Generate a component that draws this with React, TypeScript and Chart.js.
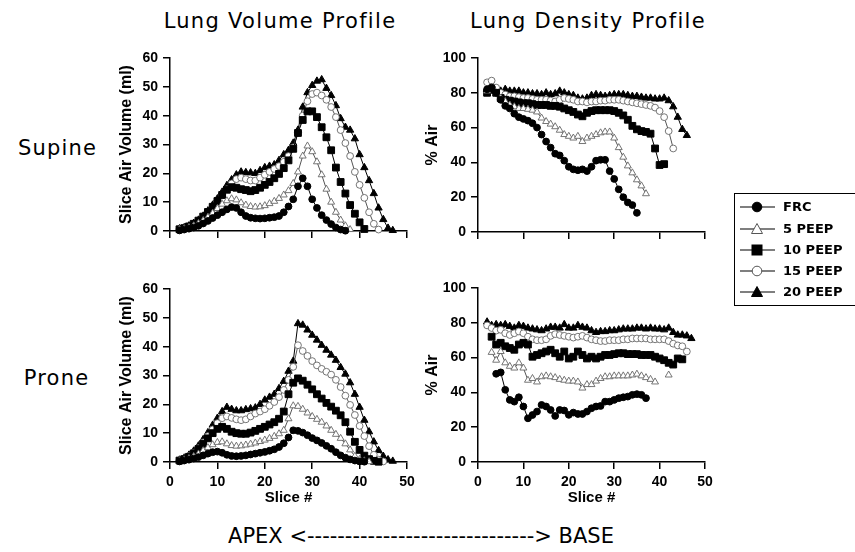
import React, { useEffect, useRef } from 'react';
import { Chart, registerables } from 'chart.js';

Chart.register(...registerables);

// ---------- categories / labels ----------
const SERIES_NAMES = ['FRC', '5 PEEP', '10 PEEP', '15 PEEP', '20 PEEP'];
const SLICE_MIN = 0;
const SLICE_MAX = 50;
const SLICE_STEP = 10;
const VOLUME_MAX = 60;
const VOLUME_STEP = 10;
const DENSITY_MAX = 100;
const DENSITY_STEP = 20;

// ---------- Supine: slice air volume (ml) ----------
const supVolStart = [2, 2, 2, 2, 2];
const supVolFRC = [0.2, 0.5, 0.8, 1.2, 1.8, 2.6, 3.5, 4.5, 5.5, 6.5, 7.5, 8.3, 8.0, 6.5, 5.2, 4.6, 4.4, 4.3, 4.4, 4.6, 4.8, 5.2, 6.5, 8.5, 11, 15.5, 18.3, 15.5, 11, 8, 5.5, 3.8, 2.4, 1.2, 0.5, 0.1];
const supVolP5 = [0.5, 0.8, 1.2, 1.8, 2.6, 3.6, 4.8, 6.2, 7.8, 9.3, 10.5, 11.2, 10.8, 9.8, 9.0, 8.5, 8.3, 8.4, 8.8, 9.5, 10.3, 11.3, 12.5, 14, 16.5, 20.5, 26, 29.5, 27.5, 24, 19.5, 14.5, 10, 6.5, 3.8, 1.8, 0.5];
const supVolP10 = [0.6, 1, 1.6, 2.5, 3.6, 5, 6.6, 8.4, 10.4, 12.5, 14.3, 15.2, 15, 14.5, 14.2, 13.8, 14.2, 15, 16, 17, 18.3, 19.8, 21.8, 24.5, 28.5, 34, 38.5, 41.5, 41.5, 39.5, 36, 32.5, 28, 22, 17, 13, 9, 6, 3, 0.7];
const supVolP15 = [0.7, 1, 1.5, 2.3, 3.3, 4.6, 6.2, 8, 10, 12.3, 14.5, 16.5, 18, 18.5, 18, 17.5, 17.5, 18.5, 19.5, 20.5, 21.5, 22.5, 24, 26, 29, 34, 40, 45, 47.5, 48, 47, 45.5, 43, 39.5, 35, 30.5, 26, 20.5, 16, 11.5, 6.5, 2.5, 0.5];
const supVolP20 = [0.8, 1.2, 1.8, 2.7, 3.8, 5.2, 7, 9, 11.2, 13.5, 15.8, 17.8, 19.5, 20.5, 20.3, 20.2, 20, 21, 22, 22.5, 23, 24.5, 26.5, 28, 30.5, 35, 43, 48, 50.5, 52, 52.5, 49.5, 47, 43.5, 39, 36, 35, 32, 26.5, 22, 17.5, 13, 8, 4, 1, 0.2];

// ---------- Supine: % air ----------
const supDenStart = [2, 2, 2, 2, 2];
const supDenFRC = [82, 83, 80, 76, 72.5, 71, 68, 66, 65, 64, 62.5, 60, 56, 52, 48.5, 45, 44, 41, 37.5, 36, 35.5, 36, 35, 37.5, 41, 41.5, 41.5, 35, 30.5, 24.5, 20, 17, 15.5, 11];
const supDenP5 = [81, 83, 80, 77, 75, 73, 72, 71, 71, 70.5, 70, 69, 65.5, 63.5, 62, 60.5, 58.5, 56, 55, 54, 55, 52, 54, 55, 56, 57, 57.5, 57.5, 54, 48.5, 43, 38, 34, 30, 26.5, 22];
const supDenP10 = [80, 82, 80, 77, 76, 75.5, 75, 74.5, 74, 74, 73.5, 73, 73, 73, 72.5, 72.5, 72, 71, 70, 69, 67.5, 66.5, 68.5, 69.5, 70, 70, 70, 70, 69.5, 68.5, 67, 64.5, 61, 59, 58, 57.5, 56.5, 48, 38.5, 39];
const supDenP15 = [86, 87, 83, 80, 79, 78, 78, 77.5, 77, 77, 76.5, 76, 76, 76, 75.5, 75, 76, 77, 76.5, 76, 75, 75, 74.5, 75, 75, 75.5, 75.5, 76, 76, 76, 75.5, 75, 74.5, 74, 73.5, 73, 72.5, 71.5, 69.5, 66, 58, 48];
const supDenP20 = [82, 81, 80, 81, 82, 81, 81, 81, 80, 80, 79.5, 79.5, 79, 80, 79, 79.5, 81, 80, 79, 78.5, 77, 76.5, 77, 78.5, 79, 78.5, 78, 78.5, 79, 79, 79, 78.5, 78, 78, 77.5, 77, 77, 76.5, 76.5, 77, 75.5, 72, 66, 59, 55.5];

// ---------- Prone: slice air volume (ml) ----------
const proVolStart = [2, 2, 2, 2, 2];
const proVolFRC = [0.2, 0.5, 0.8, 1.2, 1.7, 2.3, 2.9, 3.4, 3.6, 3.2, 2.5, 2.1, 2.0, 2.1, 2.3, 2.6, 2.9, 3.2, 3.5, 3.9, 4.4, 5.2, 6.5, 8.5, 11, 10.8, 10.2, 9.3, 8.3, 7.5, 6.6, 5.6, 4.6, 3.4, 2.3, 1.5, 0.9, 0.5, 0.2, 0.1];
const proVolP5 = [0.3, 0.7, 1.2, 1.9, 2.8, 3.9, 5.0, 6.0, 6.8, 7.0, 6.3, 5.7, 5.5, 5.6, 5.9, 6.2, 6.6, 7.1, 7.6, 8.2, 8.9, 9.8, 11.0, 15.0, 19.5, 19.3, 18.3, 17.0, 15.8, 14.8, 13.8, 12.5, 11.0, 9.6, 8.2, 6.3, 4.2, 2.0, 0.9, 0.4, 0.1];
const proVolP10 = [0.5, 1, 1.8, 3, 4.5, 6.3, 8.2, 10, 11.5, 12.2, 11.5, 10.5, 10, 9.8, 9.8, 10.2, 10.8, 11.5, 12.2, 13, 13.8, 15, 17.5, 23.5, 27.5, 29, 28.2, 26.8, 25.2, 23.5, 22, 20.5, 19.2, 17.8, 16.2, 13.8, 10.5, 7, 4.2, 2.2, 1.0, 0.4, 0.1];
const proVolP15 = [0.6, 1.2, 2, 3.2, 4.8, 6.8, 9, 11.3, 13.5, 15.2, 15.8, 15.3, 14.8, 14.5, 14.8, 15.8, 16.8, 17.5, 18.3, 19.5, 20.8, 22.5, 25, 28.5, 33, 40.5, 38.5, 36.8, 35, 33.5, 32.3, 31.3, 30.3, 28.5, 26, 23, 19.8, 16.3, 12.5, 9, 5.5, 2.5, 0.8, 0.2];
const proVolP20 = [0.7, 1.4, 2.4, 3.8, 5.6, 7.8, 10.2, 12.8, 15.2, 17.5, 19, 18.3, 17.8, 17.8, 18.2, 18.5, 18.8, 20, 21.5, 22.5, 23.5, 25.5, 28, 31.5, 35, 48, 47.5, 45.8, 44, 42.3, 40.5, 38.8, 37.1, 35.3, 32.8, 30.5, 27.5, 23.5, 19, 14.5, 10.5, 7, 4, 2, 0.8, 0.3];

// ---------- Prone: % air ----------
const proDenStart = [4, 3, 3, 2, 2];
const proDenFRC = [50.7, 51.5, 41.5, 35.7, 34.7, 37.2, 31.9, 25.1, 27, 29, 32.8, 31.9, 29.9, 26.5, 29.9, 29.6, 27.1, 28.4, 27.6, 27.6, 29, 30.9, 31.9, 32.2, 34.7, 34.7, 35.7, 36.7, 37.2, 37.6, 38.6, 39, 38.6, 36.7];
const proDenP5 = [63, 58.5, 63.5, 57, 55, 54, 57, 54, 47, 48, 46, 49, 49.5, 49, 48.5, 47.5, 47, 46.5, 46.5, 46, 42.5, 44.5, 44.5, 46.5, 48, 49, 49, 49.5, 49.5, 49.5, 49.5, 50, 50.5, 49.5, 48.5, 47.5, 46, null, null, 50];
const proDenP10 = [72, 67.5, 68.5, 66.5, 65.5, 64.5, 67.5, 68.5, 67.5, 60.5, 61.5, 62.5, 63.5, 64.5, 62.5, 60.5, 63.5, 59.5, 60.5, 63.5, 61.5, 59.5, 60.5, 59.5, 60.5, 61.5, 61.5, 62, 62.5, 62.5, 62, 62, 62, 61.5, 61.5, 61.5, 60.5, 59.5, 58.5, 57, 56, 59.5, 59];
const proDenP15 = [78.5, 77, 75.5, 76, 74, 73, 74, 75, 74, 72, 70.5, 70, 70, 70.5, 72.5, 73.5, 73, 72.5, 72, 71.5, 72, 72.5, 71.5, 70.5, 70, 69.5, 69.5, 70, 70, 70, 70.5, 70.5, 71, 71, 71, 71, 70.5, 70.5, 70.5, 70.5, 69.5, 68, 67, 66.5, 63.5];
const proDenP20 = [80.5, 78.5, 79, 78.5, 79, 78, 77, 78.5, 78, 77, 76.5, 76, 75.5, 76.5, 77.5, 77.5, 77, 79, 77, 77, 78.5, 77.5, 77, 75.5, 74.5, 75, 75, 75.5, 75.5, 76, 76.5, 76.5, 76.5, 77, 77, 76.5, 77, 76.5, 76.5, 76, 77, 74.5, 73, 73, 72.5, 71];

// ---------- styles ----------
type Sty = { shape: 'circle' | 'triangle' | 'rect'; filled: boolean; r: number };
const SERIES_STYLE: Sty[] = [
  { shape: 'circle', filled: true, r: 3.4 },
  { shape: 'triangle', filled: false, r: 4.0 },
  { shape: 'rect', filled: true, r: 4.8 },
  { shape: 'circle', filled: false, r: 3.4 },
  { shape: 'triangle', filled: true, r: 4.2 },
];

const TICK_FONT = { family: "'Liberation Sans', Arial, sans-serif", size: 14, weight: 'bold' as const };
const AXIS_TITLE_FONT = { family: "'Liberation Sans', Arial, sans-serif", size: 16, weight: 'bold' as const };
const TEXT_FONT = "'DejaVu Sans', 'Open Sans', sans-serif";

function toPoints(start: number, values: (number | null)[]) {
  return values.map((v, i) => ({ x: start + i, y: v }));
}

function buildDatasets(starts: number[], series: (number | null)[][]) {
  return series.map((vals, i) => {
    const s = SERIES_STYLE[i];
    return {
      label: SERIES_NAMES[i],
      data: toPoints(starts[i], vals),
      showLine: true,
      spanGaps: false,
      clip: false as const,
      borderColor: s.filled ? '#000' : '#555',
      borderWidth: 1,
      pointStyle: s.shape,
      pointRadius: s.r,
      pointBackgroundColor: s.filled ? '#000' : '#fff',
      pointBorderColor: s.filled ? '#000' : '#666',
      pointBorderWidth: s.filled ? 1 : 0.9,
      order: i,
    };
  });
}

type PanelProps = {
  left: number; top: number; width: number; height: number;
  padTop: number; padRight: number; yWidth: number; xHeight: number;
  yMax: number; yStep: number; yTitle: string; yTitlePad: number;
  showX: boolean; datasets: any[];
};

function Panel(p: PanelProps) {
  const ref = useRef<HTMLCanvasElement | null>(null);
  useEffect(() => {
    if (!ref.current) return;
    const chart = new Chart(ref.current, {
      type: 'scatter',
      data: { datasets: p.datasets },
      options: {
        responsive: false,
        devicePixelRatio: 1,
        animation: false,
        events: [],
        layout: { padding: { top: p.padTop, right: p.padRight, left: 0, bottom: 0 } },
        plugins: { legend: { display: false }, tooltip: { enabled: false } },
        scales: {
          x: {
            type: 'linear',
            min: SLICE_MIN,
            max: SLICE_MAX,
            ticks: { stepSize: SLICE_STEP, display: p.showX, color: '#000', font: TICK_FONT, padding: 5, maxRotation: 0 },
            grid: { display: true, drawOnChartArea: false, drawTicks: true, tickLength: 7, color: '#000', lineWidth: 1.5 },
            border: { display: true, color: '#000', width: 1.5 },
            title: { display: p.showX, text: 'Slice #', color: '#000', font: { ...AXIS_TITLE_FONT, size: 15 }, padding: { top: 0, bottom: 3 } },
            afterFit: (s: any) => { s.height = p.xHeight; },
          },
          y: {
            type: 'linear',
            min: 0,
            max: p.yMax,
            ticks: { stepSize: p.yStep, color: '#000', font: TICK_FONT, padding: 5 },
            grid: { display: true, drawOnChartArea: false, drawTicks: true, tickLength: 7, color: '#000', lineWidth: 1.5 },
            border: { display: true, color: '#000', width: 1.5 },
            title: { display: true, text: p.yTitle, color: '#000', font: AXIS_TITLE_FONT, padding: { top: p.yTitlePad, bottom: 0 } },
            afterFit: (s: any) => { s.width = p.yWidth; },
          },
        },
      } as any,
    });
    return () => chart.destroy();
  }, []);
  return (
    <canvas
      ref={ref}
      width={p.width}
      height={p.height}
      style={{ position: 'absolute', left: p.left, top: p.top, width: p.width, height: p.height }}
    />
  );
}

function LegendMarker({ s }: { s: Sty }) {
  const fill = s.filled ? '#000' : '#fff';
  const stroke = s.filled ? '#000' : '#555';
  let shape: React.ReactNode;
  if (s.shape === 'circle') shape = <circle cx={17} cy={8} r={4.8} fill={fill} stroke={stroke} strokeWidth={1} />;
  else if (s.shape === 'rect') shape = <rect x={12} y={3} width={10} height={10} fill={fill} stroke={stroke} strokeWidth={1} />;
  else shape = <polygon points="17,2.5 22.5,12.5 11.5,12.5" fill={fill} stroke={stroke} strokeWidth={1} />;
  return (
    <svg width={36} height={16} style={{ position: 'absolute', left: 0, top: 2 }}>
      <line x1={0} y1={8} x2={35} y2={8} stroke="#000" strokeWidth={1.2} />
      {shape}
    </svg>
  );
}

export default function App() {
  const supVol = buildDatasets(supVolStart, [supVolFRC, supVolP5, supVolP10, supVolP15, supVolP20]);
  const supDen = buildDatasets(supDenStart, [supDenFRC, supDenP5, supDenP10, supDenP15, supDenP20]);
  const proVol = buildDatasets(proVolStart, [proVolFRC, proVolP5, proVolP10, proVolP15, proVolP20]);
  const proDen = buildDatasets(proDenStart, [proDenFRC, proDenP5, proDenP10, proDenP15, proDenP20]);

  const textStyle = (left: number, top: number, width: number, size: number, ls = 0): React.CSSProperties => ({
    position: 'absolute', left, top, width, textAlign: 'center', fontFamily: TEXT_FONT,
    fontSize: size, lineHeight: 1, color: '#000', whiteSpace: 'nowrap', letterSpacing: ls,
  });

  const legendRows = [207, 228.5, 249.5, 270.5, 291.5];

  return (
    <div style={{ position: 'fixed', left: 0, top: 0, width: 855, height: 552, background: '#fff', overflow: 'hidden' }}>
      <div style={textStyle(130, 10.5, 300, 21, 1.3)}>Lung Volume Profile</div>
      <div style={textStyle(438, 10.5, 300, 21, 1.3)}>Lung Density Profile</div>
      <div style={textStyle(0, 137.5, 115, 21, 1.2)}>Supine</div>
      <div style={textStyle(0, 367.5, 113, 21, 1.2)}>Prone</div>
      <div style={textStyle(121, 525.5, 600, 21)}>APEX &lt;------------------------------&gt; BASE</div>

      <Panel left={100} top={40} width={330} height={210} padTop={18} padRight={23} yWidth={70} xHeight={19}
        yMax={VOLUME_MAX} yStep={VOLUME_STEP} yTitle="Slice Air Volume (ml)" yTitlePad={17} showX={false} datasets={supVol} />
      <Panel left={400} top={40} width={330} height={210} padTop={18} padRight={25} yWidth={78} xHeight={18}
        yMax={DENSITY_MAX} yStep={DENSITY_STEP} yTitle="% Air" yTitlePad={23.4} showX={false} datasets={supDen} />
      <Panel left={100} top={270} width={330} height={240} padTop={19} padRight={23} yWidth={70} xHeight={48}
        yMax={VOLUME_MAX} yStep={VOLUME_STEP} yTitle="Slice Air Volume (ml)" yTitlePad={17} showX={true} datasets={proVol} />
      <Panel left={400} top={270} width={330} height={240} padTop={18} padRight={25} yWidth={78} xHeight={48}
        yMax={DENSITY_MAX} yStep={DENSITY_STEP} yTitle="% Air" yTitlePad={23.4} showX={true} datasets={proDen} />

      <div style={{ position: 'absolute', left: 734, top: 193, width: 140, height: 113, border: '1.5px solid #000', boxSizing: 'border-box' }} />
      {SERIES_NAMES.map((name, i) => (
        <div key={name} style={{ position: 'absolute', left: 740, top: legendRows[i] - 10, width: 120, height: 20 }}>
          <LegendMarker s={SERIES_STYLE[i]} />
          <div style={{ position: 'absolute', left: 43, top: 0, height: 20, lineHeight: '20px', fontFamily: TEXT_FONT, fontSize: 13, fontWeight: 'bold', color: '#000', whiteSpace: 'nowrap' }}>{name}</div>
        </div>
      ))}
    </div>
  );
}
